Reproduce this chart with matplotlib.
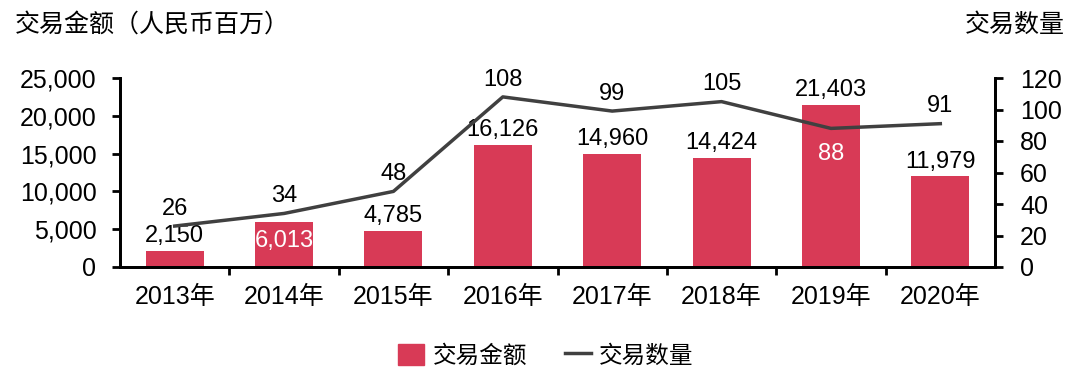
import matplotlib.pyplot as plt
from matplotlib.patches import Patch
from matplotlib.lines import Line2D

plt.rcParams['font.family'] = ['Liberation Sans', 'Noto Sans CJK SC', 'DejaVu Sans']

years = ["2013年", "2014年", "2015年", "2016年", "2017年", "2018年", "2019年", "2020年"]
amount = [2150, 6013, 4785, 16126, 14960, 14424, 21403, 11979]
count = [26, 34, 48, 108, 99, 105, 88, 91]

bar_color = "#D83A56"
line_color = "#404040"

fig = plt.figure(figsize=(10.8, 3.76), dpi=100)
ax = fig.add_axes([120 / 1080, 1 - 267 / 376, 875 / 1080, 189 / 376])
ax2 = ax.twinx()

x = list(range(len(years)))
ax.bar(x, amount, width=0.53, color=bar_color, zorder=2)
ax2.plot(x, count, color=line_color, lw=2.5, zorder=3)

ax.set_xlim(-0.5, len(years) - 0.5)
ax.set_ylim(0, 25000)
ax2.set_ylim(0, 120)
ax.set_yticks(range(0, 25001, 5000))
ax.set_yticklabels([f"{v:,}" for v in range(0, 25001, 5000)])
ax2.set_yticks(range(0, 121, 20))

# x ticks at category boundaries, labels at centers
ax.set_xticks([i + 0.5 for i in x[:-1]])
ax.set_xticklabels([])
ax.set_xticks(x, minor=True)
ax.set_xticklabels(years, minor=True)
ax.tick_params(axis="x", which="minor", length=0, pad=13, labelsize=18)
ax.tick_params(axis="x", which="major", length=6, width=2, direction="out")
ax.tick_params(axis="y", length=6, width=2, labelsize=18, pad=11)
ax2.tick_params(axis="y", length=6, width=2, labelsize=18, pad=12)

for a in (ax, ax2):
    a.spines["top"].set_visible(False)
    for s in ("left", "right", "bottom"):
        a.spines[s].set_linewidth(2)

# bar labels
for i, v in enumerate(amount):
    if i == 1:
        ax.text(i, v - 1100, f"{v:,}", ha="center", va="top", color="white", fontsize=17)
    else:
        ax.text(i, v + 500, f"{v:,}", ha="center", va="bottom", color="black", fontsize=17)

# line labels
for i, v in enumerate(count):
    if i == 6:
        ax2.text(i, v - 9, f"{v}", ha="center", va="top", color="white", fontsize=17)
    else:
        ax2.text(i, v + 4, f"{v}", ha="center", va="bottom", color="black", fontsize=17)

fig.text(15 / 1080, 1 - 25 / 376, "交易金额（人民币百万）", ha="left", va="center", fontsize=18)
fig.text(1065 / 1080, 1 - 25 / 376, "交易数量", ha="right", va="center", fontsize=18)

handles = [Patch(color=bar_color, label="交易金额"),
           Line2D([0], [0], color=line_color, lw=2.5, label="交易数量")]
fig.legend(handles=handles, loc="center", bbox_to_anchor=(546 / 1080, 1 - 356 / 376),
           ncol=2, frameon=False, fontsize=17, handlelength=1.1, handleheight=1.0,
           handletextpad=0.35, columnspacing=1.6)

fig.savefig("out.png", dpi=100)
